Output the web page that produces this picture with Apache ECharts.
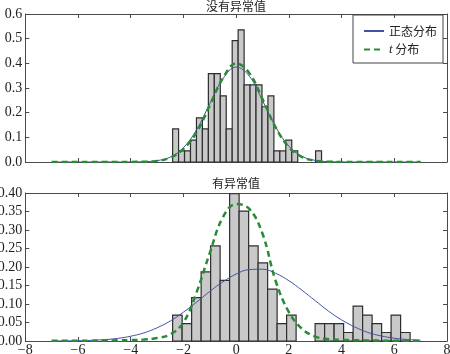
<!DOCTYPE html>
<html>
<head>
<meta charset="utf-8">
<script src="https://cdn.jsdelivr.net/npm/echarts@6/dist/echarts.min.js"></script>
<style>
  html, body { margin: 0; padding: 0; background: #fff; }
  #chart { width: 450px; height: 354px; }
</style>
</head>
<body>
<div id="chart"></div>
<script>
// 直方图（密度），25 个等宽分箱
var topBinStart = -2.41;
var topBinWidth = 0.226;
var topDensity = [0.134, 0.045, 0.045, 0.089, 0.179, 0.134, 0.358, 0.358, 0.268, 0.134,
                  0.492, 0.536, 0.313, 0.313, 0.313, 0.224, 0.268, 0.045, 0.045, 0.089,
                  0.045, 0, 0, 0, 0.045];

var botBinStart = -2.41;
var botBinWidth = 0.3604;
var botDensity = [0.070, 0.047, 0.117, 0.187, 0.257, 0.164, 0.398, 0.351, 0.257, 0.211,
                  0.140, 0.047, 0.070, 0, 0, 0.047, 0.047, 0.047, 0.023, 0.094,
                  0.070, 0.047, 0.023, 0.070, 0.023];

// 拟合曲线（读图取点）
var curveX = [-7, -6.5, -6, -5.5, -5, -4.5, -4, -3.5, -3, -2.5, -2, -1.5, -1, -0.5, 0,
              0.5, 1, 1.5, 2, 2.5, 3, 3.5, 4, 4.5, 5, 5.5, 6, 6.5, 7];
var topNormal = [0, 0, 0, 0, 0, 0, 0.0002, 0.0012, 0.0055, 0.020, 0.058, 0.131, 0.236, 0.338, 0.385,
                 0.348, 0.249, 0.142, 0.064, 0.023, 0.0065, 0.0014, 0.0002, 0, 0, 0, 0, 0, 0];
var topT = [0, 0, 0, 0, 0.0001, 0.0002, 0.0004, 0.001, 0.0046, 0.0175, 0.053, 0.12, 0.23, 0.34, 0.40,
            0.36, 0.255, 0.14, 0.06, 0.02, 0.005, 0.001, 0.0004, 0.0002, 0.0001, 0, 0, 0, 0];
var botNormal = [0.0002, 0.0004, 0.0008, 0.0018, 0.0037, 0.0070, 0.0129, 0.022, 0.0357, 0.054, 0.078, 0.105, 0.134, 0.160, 0.181,
                 0.193, 0.194, 0.183, 0.163, 0.137, 0.109, 0.081, 0.057, 0.038, 0.023, 0.0137, 0.0076, 0.004, 0.002];
var botT = [0.0005, 0.0006, 0.0008, 0.001, 0.0013, 0.0018, 0.0025, 0.004, 0.008, 0.018, 0.05, 0.132, 0.238, 0.335, 0.37,
            0.357, 0.29, 0.162, 0.078, 0.033, 0.012, 0.005, 0.003, 0.002, 0.0015, 0.001, 0.0008, 0.0006, 0.0005];

var myChart = echarts.init(document.getElementById('chart'));

function bins(start, width, dens) {
  return dens.map(function (h, i) {
    return [start + i * width, start + (i + 1) * width, h];
  });
}
function pairs(xs, ys) {
  return xs.map(function (x, i) { return [x, ys[i]]; });
}
function renderBar(params, api) {
  var p0 = api.coord([api.value(0), api.value(2)]);
  var p1 = api.coord([api.value(1), 0]);
  if (api.value(2) <= 0) return null;
  return {
    type: 'rect',
    shape: { x: p0[0], y: p0[1], width: p1[0] - p0[0], height: p1[1] - p0[1] },
    style: { fill: '#c9c9c9', stroke: '#2e2e2e', lineWidth: 1.2 }
  };
}

var lineColor = '#4a4a4a';
var serif = '"Liberation Serif", "DejaVu Serif", serif';
var labelFont = { fontFamily: serif, fontSize: 14, color: '#222' };

function xAx(grid, pos, showLabel) {
  return {
    gridIndex: grid, type: 'value', position: pos, min: -8, max: 8, interval: 2,
    axisLine: { show: true, onZero: false, lineStyle: { color: lineColor, width: 1 } },
    axisTick: { show: true, inside: true, length: 4, lineStyle: { color: lineColor } },
    axisLabel: Object.assign({ show: showLabel, margin: 2,
      formatter: function (v) { return String(v).replace('-', '\u2212'); } }, labelFont),
    splitLine: { show: false }
  };
}
function yAx(grid, pos, max, itv, dec, showLabel) {
  return {
    gridIndex: grid, type: 'value', position: pos, min: 0, max: max, interval: itv,
    axisLine: { show: true, onZero: false, lineStyle: { color: lineColor, width: 1 } },
    axisTick: { show: true, inside: true, length: 4, lineStyle: { color: lineColor } },
    axisLabel: Object.assign({ show: showLabel, margin: 3,
      formatter: function (v) { return v.toFixed(dec); } }, labelFont),
    splitLine: { show: false }
  };
}

var titleStyle = { fontFamily: 'Noto Sans CJK SC', fontSize: 12, fontWeight: 'normal', color: '#222' };

var option = {
  animation: false,
  backgroundColor: '#fff',
  title: [
    { text: '没有异常值', left: 236, top: 0, padding: 0, textAlign: 'center', textStyle: titleStyle },
    { text: '有异常值', left: 236, top: 177, padding: 0, textAlign: 'center', textStyle: titleStyle }
  ],
  legend: {
    orient: 'vertical',
    left: 353, top: 15,
    padding: [10, 6, 7, 10],
    itemWidth: 20, itemHeight: 14, itemGap: 6,
    borderColor: '#444', borderWidth: 1,
    itemStyle: { color: 'rgba(0,0,0,0)', borderWidth: 0, opacity: 0 },
    data: ['正态分布', 't 分布'],
    formatter: function (name) {
      return name === 't 分布' ? '{i|t} 分布' : name;
    },
    textStyle: {
      fontFamily: 'Noto Sans CJK SC', fontSize: 12, color: '#222',
      rich: { i: { fontFamily: serif, fontStyle: 'italic', fontSize: 13, color: '#222' } }
    }
  },
  grid: [
    { left: 25.3, right: 3, top: 14, height: 148, containLabel: false, outerBoundsMode: 'none' },
    { left: 25.3, right: 3, top: 193, height: 148, containLabel: false, outerBoundsMode: 'none' }
  ],
  xAxis: [xAx(0, 'bottom', false), xAx(0, 'top', false), xAx(1, 'bottom', true), xAx(1, 'top', false)],
  yAxis: [yAx(0, 'left', 0.6, 0.1, 1, true), yAx(0, 'right', 0.6, 0.1, 1, false),
          yAx(1, 'left', 0.4, 0.05, 2, true), yAx(1, 'right', 0.4, 0.05, 2, false)],
  series: [
    { type: 'custom', xAxisIndex: 0, yAxisIndex: 0, renderItem: renderBar,
      encode: { x: [0, 1], y: 2 }, data: bins(topBinStart, topBinWidth, topDensity), z: 1 },
    { type: 'custom', xAxisIndex: 2, yAxisIndex: 2, renderItem: renderBar,
      encode: { x: [0, 1], y: 2 }, data: bins(botBinStart, botBinWidth, botDensity), z: 1 },
    { name: '正态分布', type: 'line', xAxisIndex: 0, yAxisIndex: 0, symbol: 'none', smooth: 0.4,
      lineStyle: { color: '#4253a6', width: 1 }, itemStyle: { color: '#4253a6' },
      data: pairs(curveX, topNormal), z: 3 },
    { name: 't 分布', type: 'line', xAxisIndex: 0, yAxisIndex: 0, symbol: 'none', smooth: 0.4,
      lineStyle: { color: '#2a8a35', width: 2.5, type: [6, 4] }, itemStyle: { color: '#2a8a35' },
      data: pairs(curveX, topT), z: 4 },
    { name: '正态分布', type: 'line', xAxisIndex: 2, yAxisIndex: 2, symbol: 'none', smooth: 0.4,
      lineStyle: { color: '#4253a6', width: 1 }, itemStyle: { color: '#4253a6' },
      data: pairs(curveX, botNormal), z: 3 },
    { name: 't 分布', type: 'line', xAxisIndex: 2, yAxisIndex: 2, symbol: 'none', smooth: 0.4,
      lineStyle: { color: '#2a8a35', width: 2.5, type: [6, 4] }, itemStyle: { color: '#2a8a35' },
      data: pairs(curveX, botT), z: 4 }
  ]
};

myChart.setOption(option);
window.addEventListener('resize', function () { myChart.resize(); });
</script>
</body>
</html>
